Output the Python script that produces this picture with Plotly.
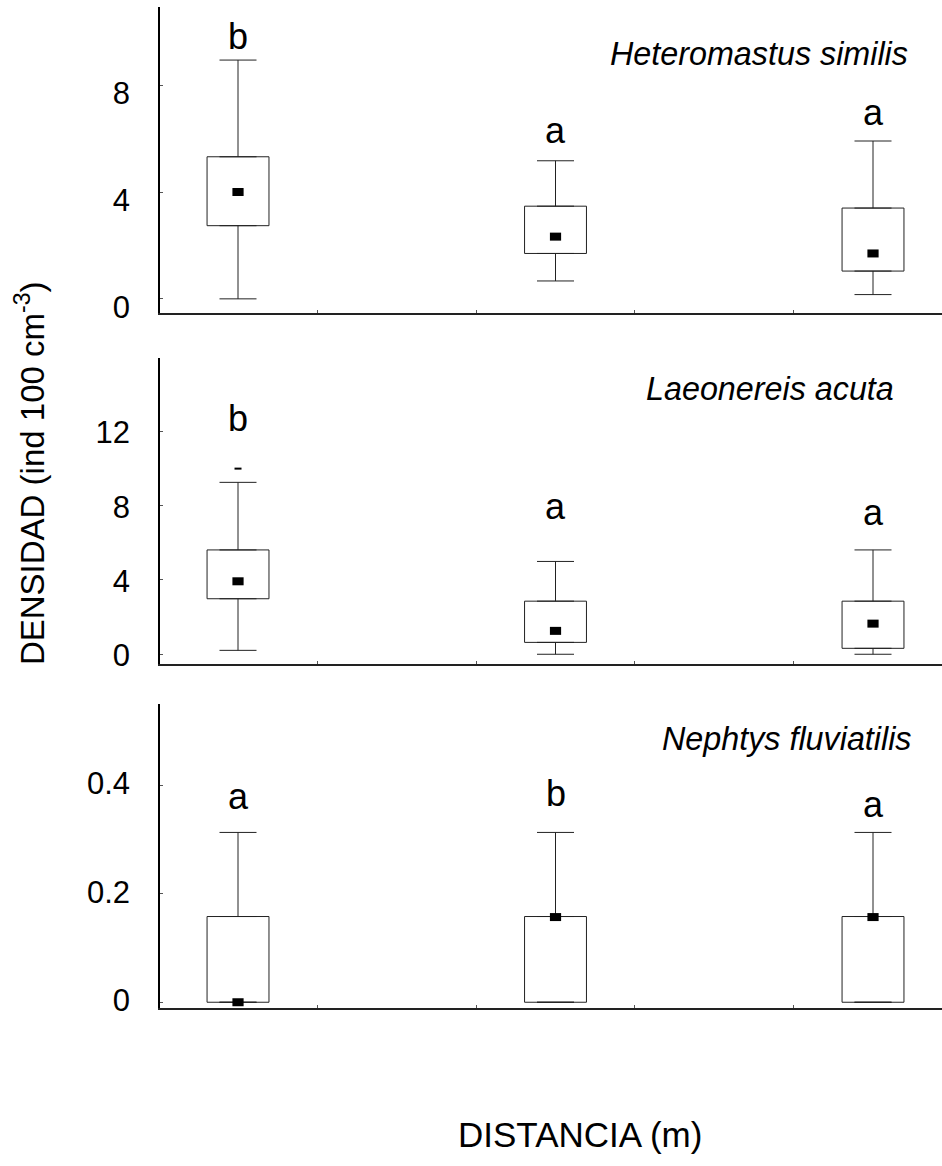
import plotly.graph_objects as go

# Sampling stations along the distance gradient (x positions of the boxes)
stations = [1, 2, 3]
species = ["Heteromastus similis", "Laeonereis acuta", "Nephtys fluviatilis"]

# Heteromastus similis: whisker low, Q1, central value, Q3, whisker high
hs_low = [0.00, 0.67, 0.16]
hs_q1 = [2.74, 1.70, 1.04]
hs_mid = [4.00, 2.33, 1.70]
hs_q3 = [5.32, 3.47, 3.40]
hs_high = [8.94, 5.17, 5.91]
hs_letters = ["b", "a", "a"]
hs_ticks = [0, 4, 8]

# Laeonereis acuta
la_low = [0.21, 0.00, 0.00]
la_q1 = [2.99, 0.64, 0.32]
la_mid = [3.93, 1.26, 1.65]
la_q3 = [5.62, 2.86, 2.86]
la_high = [9.26, 5.00, 5.62]
la_letters = ["b", "a", "a"]
la_ticks = [0, 4, 8, 12]
la_outlier_x = [1]
la_outlier_y = [10.0]

# Nephtys fluviatilis
nf_low = [0.0, 0.0, 0.0]
nf_q1 = [0.0, 0.0, 0.0]
nf_mid = [0.0, 0.157, 0.157]
nf_q3 = [0.158, 0.158, 0.158]
nf_high = [0.313, 0.313, 0.313]
nf_letters = ["a", "b", "a"]
nf_ticks = [0, 0.2, 0.4]

panels = [
    dict(low=hs_low, q1=hs_q1, mid=hs_mid, q3=hs_q3, high=hs_high,
         letters=hs_letters, ticks=hs_ticks, name=species[0]),
    dict(low=la_low, q1=la_q1, mid=la_mid, q3=la_q3, high=la_high,
         letters=la_letters, ticks=la_ticks, name=species[1]),
    dict(low=nf_low, q1=nf_q1, mid=nf_mid, q3=nf_q3, high=nf_high,
         letters=nf_letters, ticks=nf_ticks, name=species[2]),
]

W, H = 942, 1166
FONT = "Liberation Sans, Arial, sans-serif"
INK = "#222222"


def py(v):
    """pixel row (from top) -> paper y"""
    return 1 - v / H


def px(v):
    return v / W


x_dom = [px(160), 1.0]
x_range = [0.7543, 3.2173]
y_doms = [[py(316), py(7)], [py(671), py(361.7)], [py(1018.7), py(711.7)]]
y_ranges = [[-0.52, 10.93], [-0.53, 15.96], [-0.011, 0.549]]
label_shift = [8, 1, -2]
# letter offsets above the upper whisker (px)
letter_lift = [[24, 30, 29], [64, 55, 37], [36, 39, 28]]
# species label anchor: right edge x, centre y (px)
name_pos = [(910, 55), (896, 393), (914, 747)]

fig = go.Figure()
annotations = []

for i, p in enumerate(panels):
    xa = "x" if i == 0 else f"x{i + 1}"
    ya = "y" if i == 0 else f"y{i + 1}"

    # interquartile boxes
    fig.add_trace(go.Bar(
        x=stations, y=[b - a for a, b in zip(p["q1"], p["q3"])], base=p["q1"],
        width=0.195, marker=dict(color="white", line=dict(color=INK, width=1)),
        xaxis=xa, yaxis=ya, hoverinfo="skip", showlegend=False))

    # upper whiskers
    fig.add_trace(go.Scatter(
        x=stations, y=p["q3"], mode="markers",
        marker=dict(size=1, color="rgba(0,0,0,0)"),
        error_y=dict(type="data", symmetric=False,
                     array=[h - q for q, h in zip(p["q3"], p["high"])],
                     arrayminus=[0] * len(stations),
                     width=18.5, thickness=1, color=INK),
        xaxis=xa, yaxis=ya, hoverinfo="skip", showlegend=False, cliponaxis=False))

    # lower whiskers
    fig.add_trace(go.Scatter(
        x=stations, y=p["q1"], mode="markers",
        marker=dict(size=1, color="rgba(0,0,0,0)"),
        error_y=dict(type="data", symmetric=False,
                     array=[0] * len(stations),
                     arrayminus=[q - l for q, l in zip(p["q1"], p["low"])],
                     width=18.5, thickness=1, color=INK),
        xaxis=xa, yaxis=ya, hoverinfo="skip", showlegend=False, cliponaxis=False))

    # central value markers (small filled rectangles)
    fig.add_trace(go.Scatter(
        x=stations, y=p["mid"], mode="markers",
        marker=dict(symbol="line-ew", size=8, color="black",
                    line=dict(width=8, color="black")),
        xaxis=xa, yaxis=ya, hoverinfo="skip", showlegend=False, cliponaxis=False))

    # significance letters
    for xs, hv, lt, lift in zip(stations, p["high"], p["letters"], letter_lift[i]):
        annotations.append(dict(
            x=xs, y=hv, xref=xa, yref=ya, text=lt, showarrow=False,
            yanchor="middle", xanchor="center", yshift=lift,
            font=dict(family=FONT, size=36, color="black")))

    # species name
    nx, ny = name_pos[i]
    annotations.append(dict(
        x=px(nx), y=py(ny), xref="paper", yref="paper",
        text=f"<i>{p['name']}</i>", showarrow=False,
        xanchor="right", yanchor="middle",
        font=dict(family=FONT, size=32.3, color="black")))

# outlying value for Laeonereis acuta
fig.add_trace(go.Scatter(
    x=la_outlier_x, y=la_outlier_y, mode="markers",
    marker=dict(symbol="line-ew", size=5, color="black",
                line=dict(width=2, color="black")),
    xaxis="x2", yaxis="y2", hoverinfo="skip", showlegend=False))

layout = dict(
    width=W, height=H,
    margin=dict(l=0, r=0, t=0, b=0),
    paper_bgcolor="white", plot_bgcolor="white",
    barmode="overlay", showlegend=False,
    font=dict(family=FONT, color="black"),
)

for i, p in enumerate(panels):
    sx = "" if i == 0 else str(i + 1)
    layout[f"xaxis{sx}"] = dict(
        domain=x_dom, range=x_range, anchor=f"y{sx}",
        showgrid=False, zeroline=False, showline=True,
        linecolor=INK, linewidth=1.5,
        tickmode="array", tickvals=[1.25, 1.75, 2.25, 2.75],
        ticks="inside", ticklen=3, tickcolor="#555555", tickwidth=1,
        showticklabels=False, fixedrange=True)
    layout[f"yaxis{sx}"] = dict(
        domain=y_doms[i], range=y_ranges[i], anchor=f"x{sx}",
        showgrid=False, zeroline=False, showline=True,
        linecolor="black", linewidth=1.5,
        tickmode="array", tickvals=p["ticks"],
        ticktext=[f"{t:g}" for t in p["ticks"]],
        ticks="inside", ticklen=3, tickcolor="#555555", tickwidth=1,
        tickfont=dict(family=FONT, size=31, color="black"),
        ticklabelstandoff=22, ticklabelshift=label_shift[i],
        fixedrange=True)

# axis titles
annotations.append(dict(
    x=px(30), y=py(478), xref="paper", yref="paper",
    text="DENSIDAD (ind 100 cm<sup>-3</sup>)", showarrow=False,
    textangle=-90, xanchor="center", yanchor="middle",
    font=dict(family=FONT, size=33, color="black")))
annotations.append(dict(
    x=px(580), y=py(1146), xref="paper", yref="paper",
    text="DISTANCIA (m)", showarrow=False,
    xanchor="center", yanchor="middle",
    font=dict(family=FONT, size=35, color="black")))

layout["annotations"] = annotations
fig.update_layout(**layout)
fig.write_html("out.html")
